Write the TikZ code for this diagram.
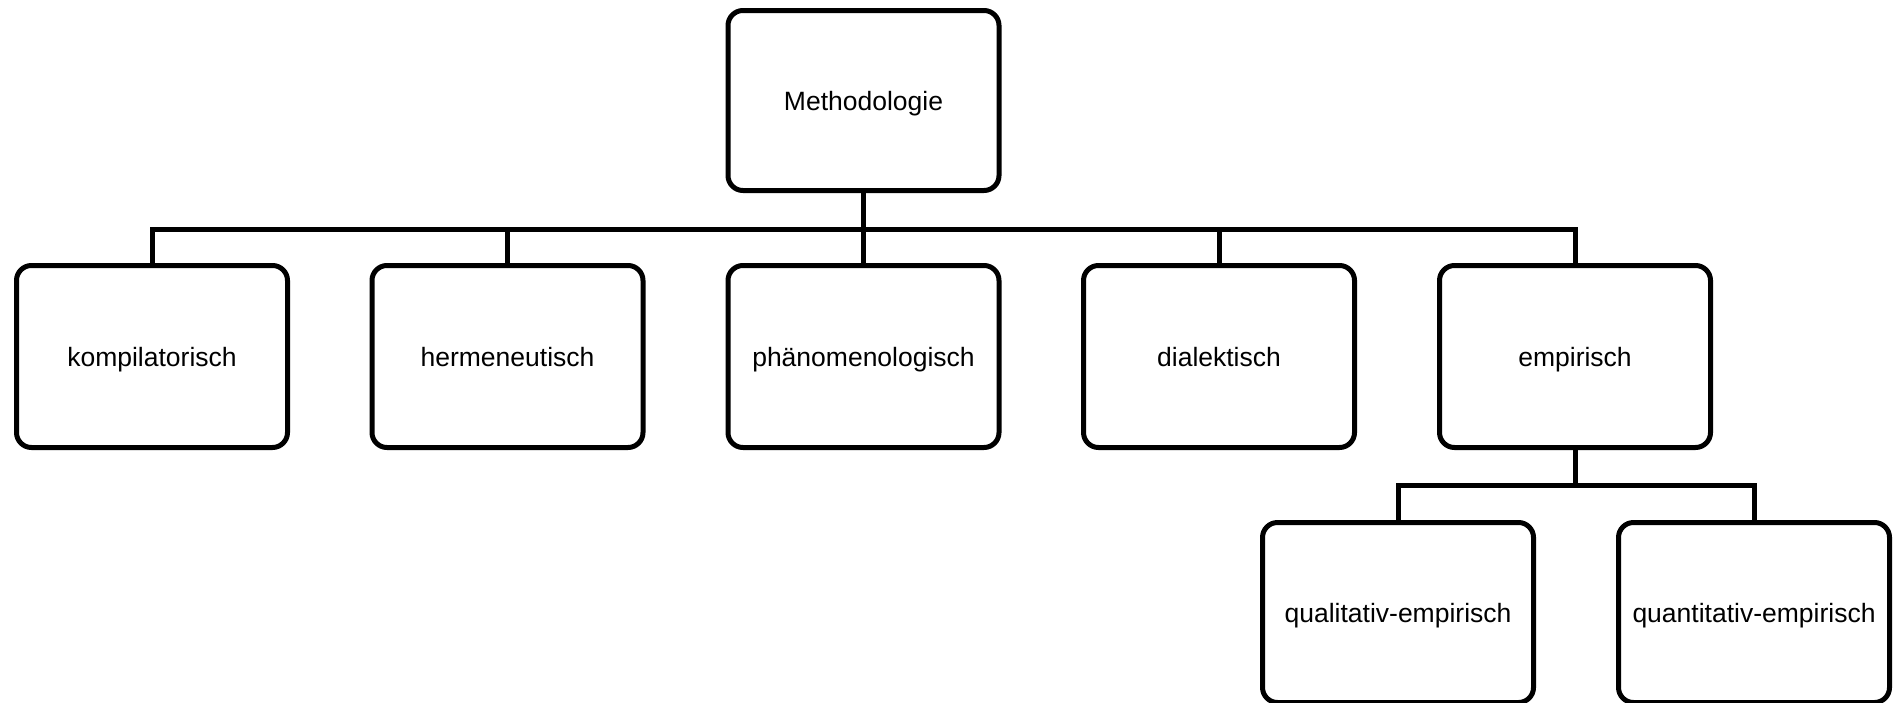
\documentclass[tikz,border=0pt]{standalone}
\usepackage{fontspec}
\setmainfont{Liberation Sans}
\begin{document}
\begin{tikzpicture}[x=1pt,y=-1pt,
  box/.style={draw=black, line width=5pt, rounded corners=15pt, fill=white,
    minimum width=271pt, minimum height=180pt, inner sep=0pt,
    text height=19pt, text depth=0pt,
    font=\fontsize{26.5}{30}\selectfont},
  conn/.style={draw=black, line width=5pt, line join=miter}]
\useasboundingbox (0,0) rectangle (1895,702);
\node[box, minimum height=180pt] (top) at (863.5,100.5) {Methodologie};
\node[box, minimum height=182pt] (k) at (152,356.5) {kompilatorisch};
\node[box, minimum height=182pt] (h) at (507.5,356.5) {hermeneutisch};
\node[box, minimum height=182pt] (p) at (863.5,356.5) {phänomenologisch};
\node[box, minimum height=182pt] (d) at (1219,356.5) {dialektisch};
\node[box, minimum height=182pt] (e) at (1575,356.5) {empirisch};
\node[box] (ql) at (1398,612.5) {qualitativ-empirisch};
\node[box] (qn) at (1754,612.5) {quantitativ-empirisch};
\coordinate (b1) at (863.5,229.5);
\coordinate (b2) at (1575,485);
\draw[conn] (top.south) -- (p.north);
\draw[conn] (k.north) |- (b1);
\draw[conn] (h.north) |- (b1);
\draw[conn] (d.north) |- (b1);
\draw[conn] (e.north) |- (b1);
\draw[conn] (e.south) -- (b2);
\draw[conn] (ql.north) |- (b2);
\draw[conn] (qn.north) |- (b2);
\end{tikzpicture}
\end{document}
